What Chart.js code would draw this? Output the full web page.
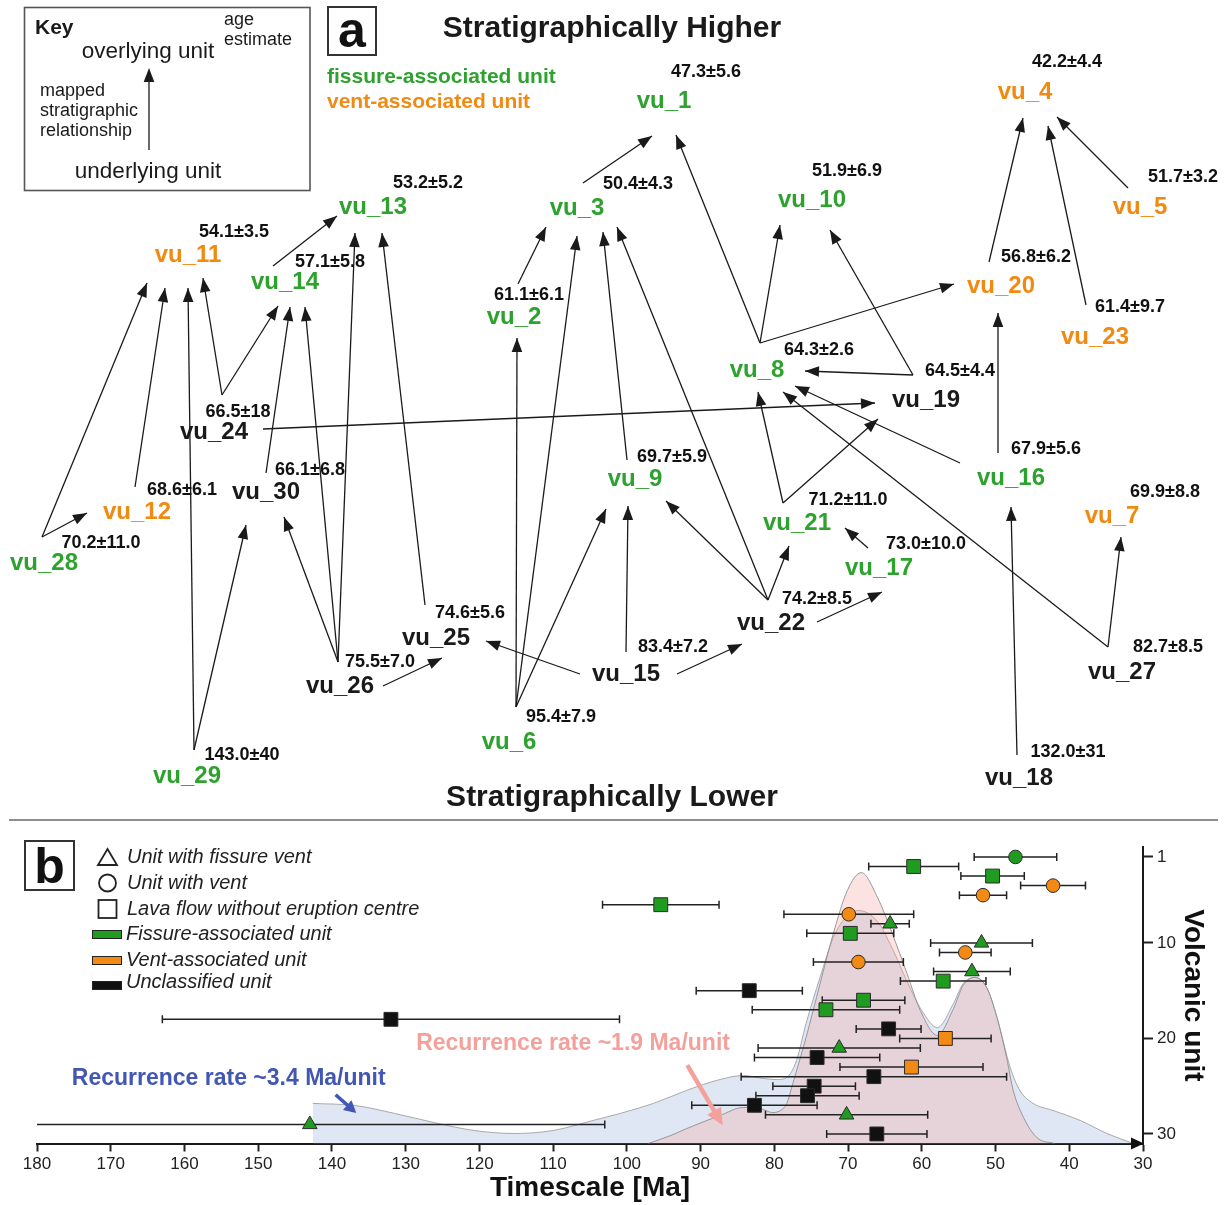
<!DOCTYPE html>
<html>
<head>
<meta charset="utf-8">
<title>Stratigraphic relationships and model ages of volcanic units</title>
<script src="https://cdn.jsdelivr.net/npm/chart.js@4.4.1/dist/chart.umd.min.js"></script>
<style>
  html, body { margin: 0; padding: 0; background: #ffffff; }
  #wrap { position: relative; width: 1228px; height: 1205px; overflow: hidden; }
  #strat { position: absolute; left: 0; top: 0; width: 1228px; height: 815px; }
  #ages { position: absolute; left: 0; top: 815px; width: 1228px; height: 390px; }
</style>
</head>
<body>
<div id="wrap">
  <canvas id="strat" width="1228" height="815"></canvas>
  <canvas id="ages" width="1228" height="390"></canvas>
</div>
<script>
// ---------------------------------------------------------------------------
// Volcanic units, model ages (Ma) and their 1-sigma uncertainties
// ---------------------------------------------------------------------------
const units = ['vu_1','vu_2','vu_3','vu_4','vu_5','vu_6','vu_7','vu_8','vu_9','vu_10',
               'vu_11','vu_12','vu_13','vu_14','vu_15','vu_16','vu_17','vu_18','vu_19','vu_20',
               'vu_21','vu_22','vu_23','vu_24','vu_25','vu_26','vu_27','vu_28','vu_29','vu_30'];
const ages = [47.3, 61.1, 50.4, 42.2, 51.7, 95.4, 69.9, 64.3, 69.7, 51.9,
              54.1, 68.6, 53.2, 57.1, 83.4, 67.9, 73.0, 132.0, 64.5, 56.8,
              71.2, 74.2, 61.4, 66.5, 74.6, 75.5, 82.7, 70.2, 143.0, 66.1];
const ageErrors = [5.6, 6.1, 4.3, 4.4, 3.2, 7.9, 8.8, 2.6, 5.9, 6.9,
                   3.5, 6.1, 5.2, 5.8, 7.2, 5.6, 10.0, 31, 4.4, 6.2,
                   11.0, 8.5, 9.7, 18, 5.6, 7.0, 8.5, 11.0, 40, 6.8];
// association of each unit: fissure-associated, vent-associated or unclassified
const unitClass = ['fissure','fissure','fissure','vent','vent','fissure','vent','fissure','fissure','fissure',
                   'vent','vent','fissure','fissure','unclassified','fissure','fissure','unclassified','unclassified','vent',
                   'fissure','unclassified','vent','unclassified','unclassified','unclassified','unclassified','fissure','fissure','unclassified'];
// source type: fissure vent, vent, or lava flow without eruption centre
const sourceType = ['vent','flow','flow','vent','vent','flow','vent','fissureVent','flow','fissureVent',
                    'vent','vent','fissureVent','flow','flow','flow','flow','flow','flow','flow',
                    'fissureVent','flow','flow','flow','flow','flow','flow','fissureVent','fissureVent','flow'];

// mapped stratigraphic relationships: [underlying unit, overlying unit]
const relations = [
  ['vu_3','vu_1'], ['vu_8','vu_1'], ['vu_8','vu_10'], ['vu_8','vu_20'], ['vu_19','vu_10'],
  ['vu_19','vu_8'], ['vu_16','vu_8'], ['vu_27','vu_8'], ['vu_21','vu_8'], ['vu_21','vu_19'],
  ['vu_24','vu_19'], ['vu_24','vu_11'], ['vu_24','vu_14'], ['vu_28','vu_11'], ['vu_28','vu_12'],
  ['vu_12','vu_11'], ['vu_29','vu_11'], ['vu_29','vu_30'], ['vu_30','vu_14'], ['vu_26','vu_14'],
  ['vu_26','vu_13'], ['vu_26','vu_30'], ['vu_26','vu_25'], ['vu_25','vu_13'], ['vu_14','vu_13'],
  ['vu_6','vu_2'], ['vu_6','vu_3'], ['vu_6','vu_9'], ['vu_15','vu_25'], ['vu_15','vu_9'],
  ['vu_15','vu_22'], ['vu_2','vu_3'], ['vu_9','vu_3'], ['vu_22','vu_3'], ['vu_22','vu_9'],
  ['vu_22','vu_21'], ['vu_22','vu_17'], ['vu_17','vu_21'], ['vu_20','vu_4'], ['vu_23','vu_4'],
  ['vu_5','vu_4'], ['vu_16','vu_20'], ['vu_18','vu_16'], ['vu_27','vu_7']
];

// age-distribution curves (relative density, peak of the young population = 100)
const densityAllAges = [142.6, 136.8, 131.5, 126.1, 120.7, 115.3, 110, 104.6, 100.9, 96.4,
                        91.9, 87.4, 84.2, 81.5, 79.6, 78.3, 77, 75.7, 73.8, 72,
                        70.1, 68.6, 66, 64, 62, 60, 57.9, 55.7, 54.4, 52.8,
                        51.2, 49.8, 48, 46.7, 44.9, 42.2, 38.5, 34.9, 31.3];
const densityAll = [14.8, 14.0, 11.1, 7.7, 4.8, 3.7, 4.8, 8.5, 11.1, 14.8,
                    19.6, 23.6, 25.1, 24.0, 23.6, 24.4, 30.6, 44.3, 61.3, 76.0,
                    84.1, 86.0, 81.9, 72.0, 59.8, 49.1, 42.8, 51.7, 59.0, 61.3,
                    57.6, 46.5, 28.0, 19.6, 14.8, 12.2, 8.5, 3.7, 0];
const densityYoungAges = [97.1, 94, 91.9, 87.4, 84.2, 81.9, 80.2, 78.8, 78.3, 77.5,
                          75.7, 73.8, 72, 70.1, 68.2, 66, 64, 62, 60.2, 57.9,
                          55.7, 54.4, 52.8, 51.2, 49.8, 48.5, 47.6, 46.2, 44.4, 42];
const densityYoung = [0, 3.0, 5.5, 10.3, 13.3, 12.9, 11.4, 12.9, 14.8, 22.1,
                      39.1, 59.0, 77.5, 93.4, 100, 90.8, 77.5, 62.7, 49.1, 39.9,
                      49.8, 58.3, 61.3, 57.6, 46.5, 31.7, 19.6, 9.6, 2.2, 0];

const timeTicks = [180, 170, 160, 150, 140, 130, 120, 110, 100, 90, 80, 70, 60, 50, 40, 30];
const unitTicks = [1, 10, 20, 30];

// ---------------------------------------------------------------------------
// Diagram layout (grid units of the stratigraphic diagram, y grows downwards)
// ---------------------------------------------------------------------------
const gridW = 1228, gridH = 815;
const unitLabelPos = [
  [664,101],[514,317],[577,208],[1025,92],[1140,207],[509,742],[1112,516],[757,370],[635,479],[812,200],
  [188,255],[137,512],[373,207],[285,282],[626,674],[1011,478],[879,568],[1019,778],[926,400],[1001,286],
  [797,523],[771,623],[1095,337],[214,432],[436,638],[340,686],[1122,672],[44,563],[187,776],[266,492]
];
const ageLabelPos = [
  [706,72],[529,295],[638,184],[1067,62],[1183,177],[561,717],[1165,492],[819,350],[672,457],[847,171],
  [234,232],[182,490],[428,183],[330,262],[673,647],[1046,449],[926,544],[1068,752],[960,371],[1036,257],
  [848,500],[817,599],[1130,307],[238,412],[470,613],[380,662],[1168,647],[101,543],[242,755],[310,470]
];
const relationTail = [
  [583,183],[760,343],[760,343],[760,343],[913,375],
  [913,375],[960,463],[1108,647],[783,503],[783,503],
  [263,429],[222,395],[222,395],[42,537],[42,537],
  [135,487],[194,750],[194,750],[266,473],[338,662],
  [338,662],[338,662],[383,686],[425,605],[273,266],
  [516,707],[516,707],[516,707],[580,674],[626,652],
  [677,674],[518,284],[627,460],[768,600],[768,600],
  [768,600],[817,622],[868,548],[989,262],[1086,305],
  [1128,188],[998,453],[1017,755],[1108,647]
];
const relationHead = [
  [652,136],[676,135],[780,225],[954,284],[830,230],
  [805,371],[795,386],[783,392],[758,392],[878,419],
  [875,403],[203,278],[278,306],[147,283],[87,513],
  [165,288],[188,288],[246,525],[290,307],[305,307],
  [355,233],[284,517],[442,658],[382,233],[337,216],
  [517,338],[577,236],[606,509],[486,641],[628,506],
  [742,644],[546,227],[603,232],[617,227],[666,501],
  [789,546],[882,592],[845,528],[1023,118],[1048,126],
  [1057,117],[998,313],[1011,507],[1121,537]
];

// ---------------------------------------------------------------------------
// Styles
// ---------------------------------------------------------------------------
const FF = '"Liberation Sans", Arial, Helvetica, sans-serif';
const INK = '#1a1a1a';
const labelColour = { fissure: '#2ea22e', vent: '#f08a12', unclassified: '#1a1a1a' };
const markerFill = { fissure: '#1f9b1f', vent: '#f28a14', unclassified: '#111111' };
const markerShape = { fissureVent: 'triangle', vent: 'circle', flow: 'rect' };
const markerRadius = { fissureVent: 8.4, vent: 6.8, flow: 9.8 };

Chart.defaults.font.family = FF;

function formatAge(i) {
  const e = ageErrors[i];
  return ages[i].toFixed(1) + '\u00B1' + (e >= 15 ? e.toFixed(0) : e.toFixed(1));
}

function arrowHead(ctx, x0, y0, x1, y1, len, half, colour) {
  const a = Math.atan2(y1 - y0, x1 - x0);
  const bx = x1 - len * Math.cos(a), by = y1 - len * Math.sin(a);
  ctx.beginPath();
  ctx.moveTo(x1, y1);
  ctx.lineTo(bx + half * Math.sin(a), by - half * Math.cos(a));
  ctx.lineTo(bx - half * Math.sin(a), by + half * Math.cos(a));
  ctx.closePath();
  ctx.fillStyle = colour;
  ctx.fill();
}

function text(ctx, str, x, y, font, colour, align, baseline) {
  ctx.font = font;
  ctx.fillStyle = colour;
  ctx.textAlign = align || 'center';
  ctx.textBaseline = baseline || 'middle';
  ctx.fillText(str, x, y);
}

// ---------------------------------------------------------------------------
// Panel a: stratigraphic relationship diagram
// ---------------------------------------------------------------------------
const relationDatasets = relations.map((r, i) => ({
  type: 'line',
  label: r[0] + ' \u2192 ' + r[1],
  data: [
    { x: relationTail[i][0], y: relationTail[i][1] },
    { x: relationHead[i][0], y: relationHead[i][1] }
  ],
  borderColor: INK,
  borderWidth: 1.3,
  pointRadius: 0,
  fill: false,
  tension: 0
}));

const diagramPlugin = {
  id: 'stratDiagram',
  afterDatasetsDraw(chart) {
    const { ctx } = chart;
    const sx = chart.scales.x, sy = chart.scales.y;
    const P = (p) => [sx.getPixelForValue(p[0]), sy.getPixelForValue(p[1])];
    ctx.save();

    // arrow heads on every relationship line
    relations.forEach((r, i) => {
      const t = P(relationTail[i]), h = P(relationHead[i]);
      arrowHead(ctx, t[0], t[1], h[0], h[1], 14, 5.3, INK);
    });

    // unit names and age estimates
    units.forEach((u, i) => {
      const p = P(unitLabelPos[i]);
      text(ctx, u, p[0], p[1], 'bold 24px ' + FF, labelColour[unitClass[i]]);
      const q = P(ageLabelPos[i]);
      text(ctx, formatAge(i), q[0], q[1], 'bold 18px ' + FF, '#111111');
    });

    // headings
    text(ctx, 'Stratigraphically Higher', 612, 37, 'bold 30px ' + FF, '#1a1a1a', 'center', 'alphabetic');
    text(ctx, 'Stratigraphically Lower', 612, 806, 'bold 30px ' + FF, '#1a1a1a', 'center', 'alphabetic');

    // panel letter
    ctx.lineWidth = 2;
    ctx.strokeStyle = '#333333';
    ctx.strokeRect(328, 7, 48, 48);
    text(ctx, 'a', 352, 47, 'bold 50px ' + FF, '#111111', 'center', 'alphabetic');

    // class colour key
    text(ctx, 'fissure-associated unit', 327, 77, 'bold 21px ' + FF, labelColour.fissure, 'left');
    text(ctx, 'vent-associated unit', 327, 102, 'bold 21px ' + FF, labelColour.vent, 'left');

    // key box
    ctx.lineWidth = 1.6;
    ctx.strokeStyle = '#555555';
    ctx.strokeRect(24.5, 7.5, 285.5, 183);
    text(ctx, 'Key', 35, 28, 'bold 21px ' + FF, '#1a1a1a', 'left');
    text(ctx, 'overlying unit', 148, 52, '22.5px ' + FF, '#1a1a1a');
    text(ctx, 'age', 224, 20, '18px ' + FF, '#1a1a1a', 'left');
    text(ctx, 'estimate', 224, 40, '18px ' + FF, '#1a1a1a', 'left');
    text(ctx, 'mapped', 40, 91, '18px ' + FF, '#1a1a1a', 'left');
    text(ctx, 'stratigraphic', 40, 111, '18px ' + FF, '#1a1a1a', 'left');
    text(ctx, 'relationship', 40, 131, '18px ' + FF, '#1a1a1a', 'left');
    text(ctx, 'underlying unit', 148, 172, '22.5px ' + FF, '#1a1a1a');
    ctx.beginPath();
    ctx.moveTo(149, 150);
    ctx.lineTo(149, 72);
    ctx.lineWidth = 1.3;
    ctx.strokeStyle = INK;
    ctx.stroke();
    arrowHead(ctx, 149, 150, 149, 68, 14, 5.3, INK);

    ctx.restore();
  }
};

new Chart(document.getElementById('strat'), {
  type: 'scatter',
  data: { datasets: relationDatasets },
  options: {
    responsive: false,
    animation: false,
    devicePixelRatio: 1,
    events: [],
    layout: { padding: 0 },
    plugins: { legend: { display: false }, tooltip: { enabled: false }, title: { display: false } },
    scales: {
      x: { type: 'linear', min: 0, max: gridW, display: false },
      y: { type: 'linear', min: 0, max: gridH, reverse: true, display: false }
    }
  },
  plugins: [diagramPlugin]
});

// ---------------------------------------------------------------------------
// Panel b: model ages through the stratigraphic sequence
// ---------------------------------------------------------------------------
const ageChartPlugin = {
  id: 'ageChartExtras',
  beforeDatasetDraw(chart, args) {
    if (args.index !== 0) return;
    const { ctx, chartArea } = chart;
    const sx = chart.scales.x, sy = chart.scales.y;
    ctx.save();
    ctx.beginPath();
    ctx.rect(chartArea.left, chartArea.top - 10, chartArea.right - chartArea.left, chartArea.bottom - chartArea.top + 10);
    ctx.clip();
    ctx.strokeStyle = '#222222';
    ctx.lineWidth = 1.5;
    ages.forEach((a, i) => {
      const y = sy.getPixelForValue(i + 1);
      const x0 = sx.getPixelForValue(a + ageErrors[i]);
      const x1 = sx.getPixelForValue(a - ageErrors[i]);
      ctx.beginPath();
      ctx.moveTo(x0, y); ctx.lineTo(x1, y);
      ctx.moveTo(x0, y - 4); ctx.lineTo(x0, y + 4);
      ctx.moveTo(x1, y - 4); ctx.lineTo(x1, y + 4);
      ctx.stroke();
    });
    ctx.restore();
  },
  afterDraw(chart) {
    const { ctx, chartArea } = chart;
    const sx = chart.scales.x, sy = chart.scales.y;
    ctx.save();

    // separator between the two panels
    ctx.beginPath();
    ctx.moveTo(9, 5); ctx.lineTo(1218, 5);
    ctx.lineWidth = 2;
    ctx.strokeStyle = '#8f8f8f';
    ctx.stroke();

    // arrow at the young end of the time axis
    ctx.beginPath();
    ctx.moveTo(chartArea.right + 1, chartArea.bottom);
    ctx.lineTo(chartArea.right - 12, chartArea.bottom - 6);
    ctx.lineTo(chartArea.right - 12, chartArea.bottom + 6);
    ctx.closePath();
    ctx.fillStyle = '#111111';
    ctx.fill();

    // recurrence-rate annotations
    const pink = '#f4a19b', blue = '#4257b3';
    text(ctx, 'Recurrence rate ~1.9 Ma/unit', sx.getPixelForValue(107.3), sy.getPixelForValue(20.58), 'bold 23px ' + FF, pink);
    text(ctx, 'Recurrence rate ~3.4 Ma/unit', sx.getPixelForValue(154.0), sy.getPixelForValue(24.25), 'bold 23px ' + FF, blue);
    let ax0 = sx.getPixelForValue(91.8), ay0 = sy.getPixelForValue(22.8);
    let ax1 = sx.getPixelForValue(87.0), ay1 = sy.getPixelForValue(29.1);
    ctx.beginPath(); ctx.moveTo(ax0, ay0); ctx.lineTo(ax0 + (ax1 - ax0) * 0.8, ay0 + (ay1 - ay0) * 0.8);
    ctx.lineWidth = 4.5; ctx.strokeStyle = pink; ctx.lineCap = 'butt'; ctx.stroke();
    arrowHead(ctx, ax0, ay0, ax1, ay1, 17, 8, pink);
    ax0 = sx.getPixelForValue(139.5); ay0 = sy.getPixelForValue(25.9);
    ax1 = sx.getPixelForValue(136.7); ay1 = sy.getPixelForValue(27.8);
    ctx.beginPath(); ctx.moveTo(ax0, ay0); ctx.lineTo(ax0 + (ax1 - ax0) * 0.6, ay0 + (ay1 - ay0) * 0.6);
    ctx.lineWidth = 3.5; ctx.strokeStyle = blue; ctx.stroke();
    arrowHead(ctx, ax0, ay0, ax1, ay1, 12, 6.5, blue);

    // panel letter
    ctx.lineWidth = 2;
    ctx.strokeStyle = '#333333';
    ctx.strokeRect(25, 26, 49, 49);
    text(ctx, 'b', 49.5, 68, 'bold 50px ' + FF, '#111111', 'center', 'alphabetic');

    // legend: symbols
    ctx.lineWidth = 1.8;
    ctx.strokeStyle = '#222222';
    ctx.beginPath();
    ctx.moveTo(107.5, 34); ctx.lineTo(117, 50); ctx.lineTo(98, 50); ctx.closePath();
    ctx.stroke();
    ctx.beginPath();
    ctx.arc(107.5, 68, 8.5, 0, Math.PI * 2);
    ctx.stroke();
    ctx.strokeRect(98.5, 85, 18, 18);
    // legend: class swatches
    const sw = [['fissure', 115], ['vent', 141], ['unclassified', 166]];
    ctx.lineWidth = 1;
    sw.forEach(s => {
      ctx.fillStyle = markerFill[s[0]];
      ctx.fillRect(92, s[1], 30, 9);
      ctx.strokeStyle = '#222222';
      ctx.strokeRect(92.5, s[1] + 0.5, 29, 8);
    });
    const lf = 'italic 20px ' + FF, lc = '#222222';
    text(ctx, 'Unit with fissure vent', 127, 42.5, lf, lc, 'left');
    text(ctx, 'Unit with vent', 127, 68, lf, lc, 'left');
    text(ctx, 'Lava flow without eruption centre', 127, 94, lf, lc, 'left');
    text(ctx, 'Fissure-associated unit', 126, 119.5, lf, lc, 'left');
    text(ctx, 'Vent-associated unit', 126, 145.5, lf, lc, 'left');
    text(ctx, 'Unclassified unit', 126, 167.5, lf, lc, 'left');

    ctx.restore();
  }
};

new Chart(document.getElementById('ages'), {
  type: 'scatter',
  data: {
    datasets: [
      {
        label: 'Volcanic units',
        data: ages.map((a, i) => ({ x: a, y: i + 1 })),
        pointStyle: sourceType.map(t => markerShape[t]),
        pointRadius: sourceType.map(t => markerRadius[t]),
        pointBackgroundColor: unitClass.map(c => markerFill[c]),
        pointBorderColor: '#2b2b2b',
        pointBorderWidth: 1,
        order: 0
      },
      {
        type: 'line',
        label: 'Recurrence ~1.9 Ma/unit',
        data: densityYoungAges.map((a, i) => ({ x: a, y: densityYoung[i] })),
        yAxisID: 'yD',
        fill: 'origin',
        backgroundColor: 'rgba(245,165,160,0.32)',
        borderColor: '#8e8e8e',
        borderWidth: 0.9,
        pointRadius: 0,
        cubicInterpolationMode: 'monotone',
        order: 1
      },
      {
        type: 'line',
        label: 'Recurrence ~3.4 Ma/unit',
        data: densityAllAges.map((a, i) => ({ x: a, y: densityAll[i] })),
        yAxisID: 'yD',
        fill: 'origin',
        backgroundColor: '#dfe7f5',
        borderColor: '#a0a0a0',
        borderWidth: 0.9,
        pointRadius: 0,
        cubicInterpolationMode: 'monotone',
        order: 2
      }
    ]
  },
  options: {
    responsive: false,
    animation: false,
    devicePixelRatio: 1,
    events: [],
    layout: { padding: { left: 37, top: 32.4, right: 0, bottom: 0 } },
    plugins: { legend: { display: false }, tooltip: { enabled: false }, title: { display: false } },
    scales: {
      x: {
        type: 'linear', min: 30, max: 180, reverse: true, position: 'bottom',
        afterBuildTicks(s) { s.ticks = timeTicks.map(v => ({ value: v })); },
        ticks: { color: '#222222', font: { family: FF, size: 17 }, padding: 3, maxRotation: 0, autoSkip: false },
        grid: { drawOnChartArea: false, drawTicks: true, tickLength: 8, tickWidth: 2, tickColor: '#222222' },
        border: { display: true, color: '#1a1a1a', width: 2 },
        title: { display: true, text: 'Timescale [Ma]', color: '#111111',
                 font: { family: FF, size: 28, weight: 'bold' }, padding: { top: 0, bottom: 0 } },
        afterFit(s) { s.height = 61.5; }
      },
      y: {
        type: 'linear', min: 0, max: 31, reverse: true, position: 'right',
        afterBuildTicks(s) { s.ticks = unitTicks.map(v => ({ value: v })); },
        ticks: { color: '#222222', font: { family: FF, size: 17 }, padding: 4 },
        grid: { drawOnChartArea: false, drawTicks: true, tickLength: 10, tickWidth: 2, tickColor: '#222222' },
        border: { display: true, color: '#1a1a1a', width: 2 },
        title: { display: true, text: 'Volcanic unit', color: '#111111',
                 font: { family: FF, size: 28, weight: 'bold' }, padding: { top: 18, bottom: 0 } },
        afterFit(s) { s.width = 85; }
      },
      yD: { type: 'linear', display: false, min: 0, max: 109.3 }
    }
  },
  plugins: [ageChartPlugin]
});
</script>
</body>
</html>
